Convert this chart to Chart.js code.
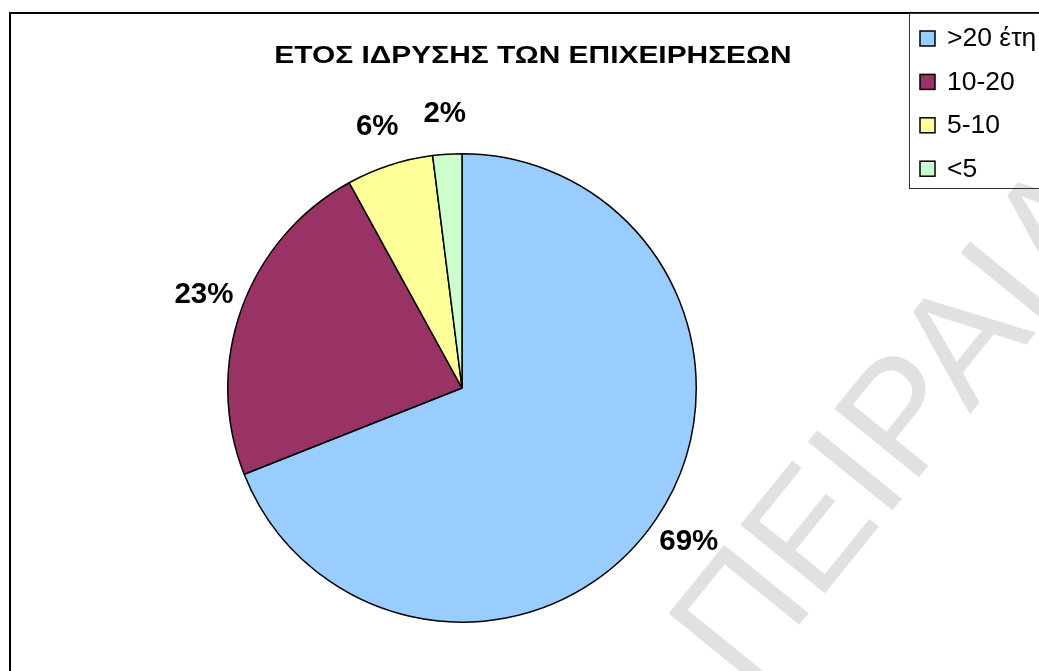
<!DOCTYPE html>
<html>
<head>
<meta charset="utf-8">
<script src="https://cdn.jsdelivr.net/npm/chart.js@4.4.0/dist/chart.umd.min.js"></script>
<style>
  html, body { margin: 0; padding: 0; background: #fff; overflow: hidden; }
  #wrap { position: relative; width: 1100px; height: 700px; }
</style>
</head>
<body>
<div id="wrap"><canvas id="pieChart"></canvas></div>
<script>
const chartTitle = 'ΕΤΟΣ ΙΔΡΥΣΗΣ ΤΩΝ ΕΠΙΧΕΙΡΗΣΕΩΝ';
const categories = ['>20 έτη', '10-20', '5-10', '<5'];
const shares = [69, 23, 6, 2];
const sliceColors = ['#99CCFF', '#993366', '#FFFF99', '#CCFFCC'];
const watermark = 'ΠΕΙΡΑΙΑ';

const FONT = '"Liberation Sans", Arial, sans-serif';

// frame, title, watermark and legend box drawn around the pie
const decorations = {
  id: 'decorations',
  beforeDraw(chart) {
    const c = chart.ctx;
    c.save();
    c.fillStyle = '#fff';
    c.fillRect(0, 0, chart.width, chart.height);

    // watermark
    c.save();
    c.translate(745, 692);
    c.rotate(-51 * Math.PI / 180);
    c.fillStyle = '#e1e1e1';
    c.font = '158px ' + FONT;
    c.textBaseline = 'alphabetic';
    c.fillText(watermark, 0, 0);
    c.restore();

    // outer frame
    c.strokeStyle = '#000';
    c.lineWidth = 2;
    c.strokeRect(10, 13, 1200, 1000);

    // title (the original is drawn horizontally stretched)
    c.save();
    c.translate(533, 57);
    c.scale(1.3, 1);
    c.fillStyle = '#000';
    c.font = 'bold 23px ' + FONT;
    c.textAlign = 'center';
    c.textBaseline = 'middle';
    c.fillText(chartTitle, 0, 0);
    c.restore();
    c.restore();
  },
  afterDraw(chart) {
    const c = chart.ctx;
    const ds = chart.data.datasets[0];
    c.save();
    // legend box
    c.strokeStyle = '#333';
    c.lineWidth = 1;
    c.strokeRect(909.5, 13.5, 300, 175);
    c.font = '26.5px ' + FONT;
    c.textBaseline = 'middle';
    c.textAlign = 'left';
    chart.data.labels.forEach((lab, i) => {
      const y = 38 + i * 43.4;
      c.fillStyle = ds.backgroundColor[i];
      c.fillRect(920, y - 7, 15, 15);
      c.strokeStyle = '#000';
      c.lineWidth = 1.5;
      c.strokeRect(920, y - 7, 15, 15);
      c.fillStyle = '#000';
      c.fillText(lab, 947, y + 1);
    });

    // percentage labels outside the slices
    const meta = chart.getDatasetMeta(0);
    const total = ds.data.reduce((a, b) => a + b, 0);
    c.font = 'bold 29.5px ' + FONT;
    c.textAlign = 'center';
    c.textBaseline = 'middle';
    c.fillStyle = '#000';
    meta.data.forEach((arc, i) => {
      const p = arc.getProps(['x', 'y', 'startAngle', 'endAngle', 'outerRadius'], true);
      const mid = (p.startAngle + p.endAngle) / 2;
      const d = p.outerRadius + 40;
      const pct = Math.round(ds.data[i] / total * 100) + '%';
      c.fillText(pct, p.x + Math.cos(mid) * d, p.y + Math.sin(mid) * d);
    });
    c.restore();
  }
};

new Chart(document.getElementById('pieChart'), {
  type: 'pie',
  data: {
    labels: categories,
    datasets: [{
      data: shares,
      backgroundColor: sliceColors,
      borderColor: '#000',
      borderWidth: 1.5
    }]
  },
  options: {
    responsive: true,
    maintainAspectRatio: false,
    animation: false,
    layout: { padding: { left: 227, top: 153, right: 1100 - 697, bottom: 700 - 623 } },
    plugins: { legend: { display: false }, title: { display: false }, tooltip: { enabled: false } }
  },
  plugins: [decorations]
});
</script>
</body>
</html>
